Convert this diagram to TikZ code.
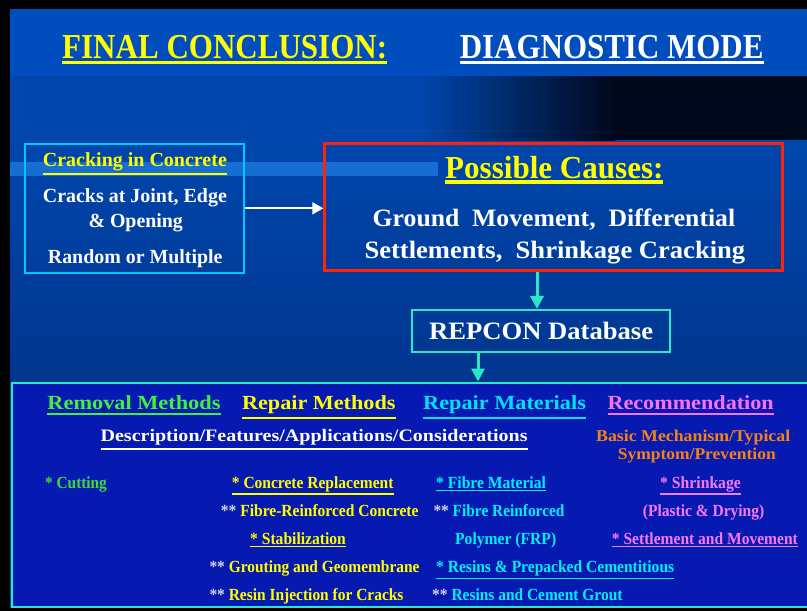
\documentclass[tikz,border=0pt]{standalone}
\usepackage{fontspec}
\setmainfont{Liberation Serif}
\usepackage{graphicx}
\usetikzlibrary{arrows.meta}

% palette
\definecolor{bandblue}{RGB}{0,78,190}
\definecolor{bgtop}{RGB}{0,70,172}
\definecolor{bgbot}{RGB}{0,54,142}
\definecolor{nightblue}{RGB}{0,8,28}
\definecolor{stripeblue}{RGB}{22,110,212}
\definecolor{panelblue}{RGB}{6,26,178}
\definecolor{aqualine}{RGB}{40,232,200}
\definecolor{boxcyan}{RGB}{0,200,255}
\definecolor{causered}{RGB}{255,34,12}
\definecolor{hiyellow}{RGB}{255,255,0}
\definecolor{hdgreen}{RGB}{64,240,64}
\definecolor{cutgreen}{RGB}{60,222,60}
\definecolor{hdcyan}{RGB}{0,226,255}
\definecolor{itcyan}{RGB}{0,238,255}
\definecolor{hdpink}{RGB}{255,112,250}
\definecolor{itpink}{RGB}{250,120,245}
\definecolor{mechorange}{RGB}{245,130,20}
\definecolor{stargrey}{RGB}{214,214,228}

% squeeze or stretch a line of text to a given width, keeping its height
\newcommand\fitw[2]{\resizebox{#1}{\height}{#2}}
% underline: gap below baseline, rule thickness, text
\newcommand\ulbar[3]{\vtop{\hbox{#3}\kern#1\hrule height#2\relax}}
\newcommand\twostar{\textcolor{stargrey}{**}}

\tikzset{
  txt/.style={inner sep=0pt, anchor=base west, font=\bfseries\fontsize{#1}{#1}\selectfont},
  framebox/.style={draw, inner sep=0pt},
  whitearrow/.style={draw=white, line width=2pt, -{Triangle[length=11pt,width=12pt]}},
  aquaarrow/.style={draw=aqualine, line width=3pt, -{Triangle[length=13pt,width=13pt]}},
}

\begin{document}
\begin{tikzpicture}[x=1pt, y=-1pt]
\useasboundingbox (0,0) rectangle (807,611);

% backdrop
\fill[black] (0,0) rectangle (807,611);
\fill[bgtop] (10,9) rectangle (807,608);
\shade[top color=bgtop, bottom color=bgbot] (10,140) rectangle (807,382);
\fill[bandblue] (10,9) rectangle (807,76);
\shade[left color=bgtop, right color=nightblue] (420,76) rectangle (615,140);
\fill[nightblue] (615,76) rectangle (807,140);
\fill[stripeblue] (10,162) rectangle (438,176);

% title line
\node[txt=35, text=hiyellow] (ttlA) at (62,58.3) {\fitw{325pt}{\ulbar{2pt}{3.3pt}{FINAL CONCLUSION:}}};
\node[txt=35, text=white] (ttlB) at (459.6,58.3) {\fitw{303.7pt}{\ulbar{2pt}{3.3pt}{DIAGNOSTIC MODE}}};

% observed cracking
\node[framebox, draw=boxcyan, line width=2pt, minimum width=219pt, minimum height=129.5pt] (crackbox) at (134.5,208.3) {};
\node[txt=20, text=hiyellow] (crackhead) at (42.7,166.7) {\fitw{184pt}{\ulbar{1.6pt}{2.2pt}{Cracking in Concrete}}};
\node[txt=20, text=white] (crackA) at (42.7,202.7) {\fitw{184pt}{Cracks at Joint, Edge}};
\node[txt=20, text=white] (crackB) at (88.3,227) {\fitw{94.4pt}{\& Opening}};
\node[txt=20, text=white] (crackC) at (47.7,263.5) {\fitw{174.6pt}{Random or Multiple}};

% possible causes
\node[framebox, draw=causered, line width=3pt, minimum width=458pt, minimum height=127pt] (causebox) at (553.8,207) {};
\node[txt=32, text=hiyellow] (causehead) at (445,178.3) {\fitw{218.3pt}{\ulbar{1.7pt}{3.3pt}{Possible Causes:}}};
\node[txt=25, text=white] (causeA) at (372.5,226.7) {\fitw{362.5pt}{Ground\enspace Movement,\enspace Differential}};
\node[txt=25, text=white] (causeB) at (364.3,258.3) {\fitw{380.7pt}{Settlements,\enspace Shrinkage Cracking}};

% database
\node[framebox, draw=aqualine, line width=2.5pt, minimum width=258pt, minimum height=42pt,
      text=white, font=\bfseries\fontsize{25}{25}\selectfont] (repcon) at (541.1,331.2)
      {\fitw{224pt}{REPCON Database}};

% result panel
\node[framebox, draw=aqualine, fill=panelblue, line width=2.5pt, minimum width=802pt, minimum height=224pt] (panel) at (413,494.8) {};

% connectors
\draw[whitearrow] (crackbox.east) -- (crackbox.east -| causebox.west);
\coordinate (dropA) at (537,290);
\coordinate (dropB) at (478,365);
\draw[aquaarrow] (dropA |- causebox.south) -- (dropA |- repcon.north);
\draw[aquaarrow] (dropB |- repcon.south) -- (dropB |- panel.north);

% panel headings
\node[txt=20, text=hdgreen]  (hRemove) at (47.3,409.8)  {\fitw{173pt}{\ulbar{3.2pt}{2pt}{Removal Methods}}};
\node[txt=20, text=hiyellow] (hRepair) at (241.9,409.8) {\fitw{153.4pt}{\ulbar{3.2pt}{2pt}{Repair Methods}}};
\node[txt=20, text=hdcyan]   (hMater)  at (423,409.8)   {\fitw{162.7pt}{\ulbar{3.2pt}{2pt}{Repair Materials}}};
\node[txt=20, text=hdpink]   (hRecom)  at (607.3,409.8) {\fitw{166.3pt}{\ulbar{3.2pt}{2pt}{Recommendation}}};
\node[txt=17.5, text=white]  (hDesc)   at (100.4,441.7) {\fitw{427pt}{\ulbar{3pt}{1.6pt}{Description/Features/Applications/Considerations}}};
\node[txt=16.5, text=mechorange] (hMechA) at (596,441.7) {\fitw{194pt}{Basic Mechanism/Typical}};
\node[txt=16.5, text=mechorange] (hMechB) at (617.6,459) {\fitw{158pt}{Symptom/Prevention}};

% removal methods
\node[txt=17, text=cutgreen] (rmCut) at (45,488.3) {\fitw{61.7pt}{* Cutting}};

% repair methods
\node[txt=17, text=hiyellow] (rpConc)  at (231.7,488.3) {\fitw{161.6pt}{\ulbar{1.2pt}{1.8pt}{* Concrete Replacement}}};
\node[txt=17, text=hiyellow] (rpFibre) at (220.7,516.7) {\fitw{197.6pt}{\twostar{} Fibre-Reinforced Concrete}};
\node[txt=17, text=hiyellow] (rpStab)  at (250,544.3)   {\fitw{95.7pt}{\ulbar{1.2pt}{1.8pt}{* Stabilization}}};
\node[txt=17, text=hiyellow] (rpGrout) at (209.3,572.7) {\fitw{210pt}{\twostar{} Grouting and Geomembrane}};
\node[txt=17, text=hiyellow] (rpResin) at (209.3,600)   {\fitw{194pt}{\twostar{} Resin Injection for Cracks}};

% repair materials
\node[txt=17, text=itcyan] (mtFibre) at (436,488.3)   {\fitw{109.7pt}{\ulbar{1.2pt}{1.8pt}{* Fibre Material}}};
\node[txt=17, text=itcyan] (mtFRPa)  at (433.3,516.7) {\fitw{131pt}{\twostar{} Fibre Reinforced}};
\node[txt=17, text=itcyan] (mtFRPb)  at (455,544.3)   {\fitw{101pt}{Polymer (FRP)}};
\node[txt=17, text=itcyan] (mtResin) at (436,572.7)   {\fitw{238pt}{\ulbar{1.2pt}{1.8pt}{* Resins \& Prepacked Cementitious}}};
\node[txt=17, text=itcyan] (mtGrout) at (432,600)     {\fitw{190.3pt}{\twostar{} Resins and Cement Grout}};

% recommendation
\node[txt=17, text=itpink] (rcShrink) at (660,488.3)   {\fitw{80.7pt}{\ulbar{1.2pt}{1.8pt}{* Shrinkage}}};
\node[txt=17, text=itpink] (rcPlast)  at (642.7,516.7) {\fitw{121.3pt}{(Plastic \& Drying)}};
\node[txt=17, text=itpink] (rcSettle) at (611.7,544.3) {\fitw{186pt}{\ulbar{1.2pt}{1.8pt}{* Settlement and Movement}}};

\end{tikzpicture}
\end{document}
